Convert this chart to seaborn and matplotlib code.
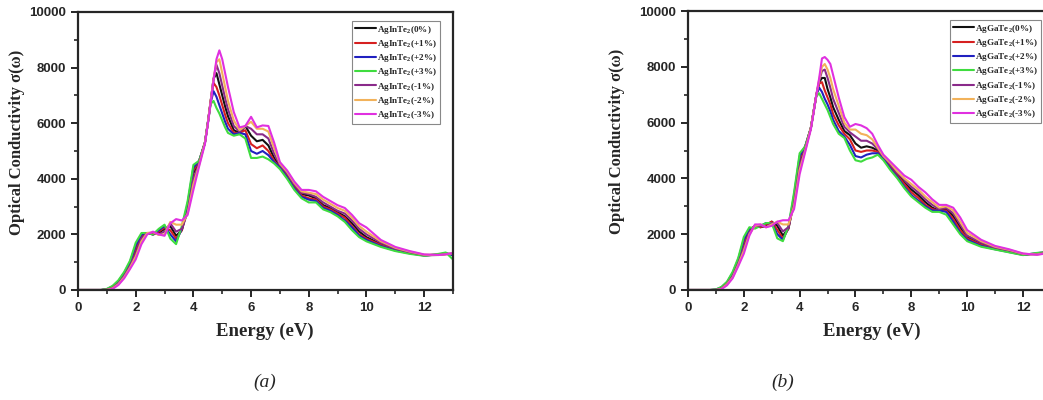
import seaborn as sns
import matplotlib.pyplot as plt
import matplotlib.ticker as mticker
import pandas as pd

# energy grid (eV), shared by all curves
energy = [0, 0.4, 0.8, 1.0, 1.2, 1.4, 1.6, 1.8, 2.0, 2.2, 2.4, 2.6, 2.8, 3.0, 3.2, 3.4, 3.6, 3.8,
          4.0, 4.2, 4.4, 4.5, 4.6, 4.7, 4.8, 4.9, 5.0, 5.1, 5.2, 5.4, 5.6, 5.8, 6.0, 6.2, 6.4, 6.6,
          6.8, 7.0, 7.25, 7.5, 7.75, 8.0, 8.25, 8.5, 8.75, 9.0, 9.25, 9.5, 9.75, 10.0, 10.5, 11.0,
          11.5, 12.0, 12.5, 12.75, 13.0]

strains = ['0%', '+1%', '+2%', '+3%', '-1%', '-2%', '-3%']
colors = ['#111111', '#d62020', '#2020c0', '#3fdc3f', '#8a2a8a', '#f2b25a', '#e030e0']

# ---- (a) AgInTe2 ----
inte_0 = [0, 0, 0, 15, 100, 270, 540, 900, 1400, 1900, 2050, 2000, 2050, 2200, 2300, 1950, 2150, 2900,
          4200, 4600, 5300, 6000, 6800, 7600, 7800, 7400, 7000, 6600, 6250, 5750, 5650, 5900, 5550, 5350, 5400, 5200,
          4750, 4450, 4150, 3750, 3450, 3400, 3300, 3050, 2950, 2800, 2650, 2400, 2100, 1900, 1650, 1460,
          1340, 1250, 1260, 1300, 1300]
inte_p1 = [0, 0, 0, 20, 110, 290, 570, 950, 1500, 1950, 2050, 2000, 2100, 2250, 2150, 1850, 2150, 3000,
           4300, 4650, 5300, 6000, 6800, 7450, 7300, 7000, 6650, 6300, 6000, 5650, 5650, 5750, 5250, 5100, 5200, 5000,
           4650, 4400, 4100, 3700, 3400, 3300, 3250, 3000, 2900, 2750, 2600, 2300, 2000, 1850, 1620, 1440,
           1330, 1250, 1270, 1310, 1280]
inte_p2 = [0, 0, 0, 30, 130, 320, 610, 1000, 1600, 2000, 2050, 2000, 2150, 2300, 2000, 1750, 2200, 3100,
           4400, 4650, 5300, 6000, 6750, 7150, 6950, 6650, 6350, 6050, 5800, 5600, 5650, 5600, 5000, 4900, 5000, 4850,
           4600, 4400, 4050, 3650, 3350, 3250, 3200, 2950, 2850, 2700, 2500, 2250, 1950, 1800, 1580, 1420,
           1320, 1240, 1280, 1320, 1250]
inte_p3 = [0, 0, 0, 40, 150, 350, 650, 1050, 1700, 2050, 2050, 2000, 2200, 2350, 1850, 1650, 2300, 3200,
           4500, 4650, 5300, 6000, 6700, 6800, 6550, 6350, 6100, 5850, 5650, 5550, 5600, 5450, 4750, 4750, 4800, 4700,
           4550, 4350, 4000, 3600, 3300, 3150, 3150, 2900, 2800, 2650, 2450, 2150, 1900, 1750, 1550, 1400,
           1300, 1230, 1300, 1350, 1100]
inte_m1 = [0, 0, 0, 10, 80, 240, 500, 850, 1300, 1850, 2050, 2050, 2000, 2100, 2400, 2100, 2200, 2800,
           4000, 4550, 5300, 6000, 6800, 7600, 8100, 7800, 7350, 6900, 6500, 5900, 5700, 5900, 5800, 5600, 5600, 5450,
           4900, 4500, 4200, 3800, 3500, 3450, 3350, 3150, 3000, 2850, 2750, 2500, 2200, 2000, 1700, 1490,
           1360, 1260, 1260, 1290, 1310]
inte_m2 = [0, 0, 0, 5, 60, 210, 460, 800, 1200, 1750, 2050, 2080, 1980, 2000, 2450, 2350, 2350, 2750,
           3800, 4500, 5300, 6000, 6800, 7600, 8200, 8300, 7800, 7300, 6800, 6100, 5750, 5900, 6050, 5800, 5800, 5700,
           5100, 4550, 4250, 3850, 3550, 3500, 3450, 3250, 3100, 2950, 2850, 2600, 2300, 2100, 1750, 1520,
           1380, 1270, 1260, 1280, 1320]
inte_m3 = [0, 0, 0, 0, 40, 180, 420, 750, 1100, 1650, 2000, 2100, 2000, 1950, 2400, 2550, 2500, 2700,
           3600, 4450, 5250, 5950, 6750, 7550, 8300, 8620, 8300, 7800, 7300, 6400, 5850, 5900, 6230, 5850, 5920, 5900,
           5300, 4600, 4300, 3900, 3600, 3600, 3550, 3350, 3200, 3050, 2950, 2700, 2400, 2250, 1800, 1550,
           1400, 1280, 1260, 1280, 1330]

# ---- (b) AgGaTe2 ----
gate_0 = [0, 0, 0, 5, 70, 240, 530, 1000, 1600, 2100, 2300, 2250, 2300, 2450, 2300, 1950, 2200, 3200,
          4600, 5100, 5800, 6400, 7000, 7450, 7600, 7600, 7200, 6900, 6550, 6100, 5700, 5550, 5250, 5100, 5150, 5100,
          5000, 4750, 4450, 4150, 3850, 3600, 3400, 3150, 2950, 2850, 2900, 2650, 2250, 1900, 1650, 1500,
          1400, 1280, 1290, 1330, 1360]
gate_p1 = [0, 0, 0, 10, 85, 260, 570, 1050, 1700, 2150, 2300, 2250, 2350, 2450, 2150, 1850, 2200, 3300,
           4700, 5150, 5800, 6400, 7000, 7400, 7450, 7150, 6900, 6650, 6300, 5900, 5600, 5400, 5000, 4950, 5000, 5000,
           4950, 4750, 4400, 4100, 3800, 3500, 3300, 3050, 2900, 2850, 2850, 2550, 2150, 1850, 1620, 1480,
           1380, 1270, 1300, 1340, 1360]
gate_p2 = [0, 0, 0, 15, 100, 280, 610, 1100, 1800, 2200, 2250, 2300, 2400, 2400, 2000, 1800, 2250, 3400,
           4800, 5150, 5800, 6400, 7000, 7250, 7100, 6850, 6650, 6400, 6100, 5700, 5500, 5200, 4800, 4750, 4850, 4900,
           4900, 4700, 4350, 4050, 3700, 3400, 3200, 3000, 2850, 2850, 2800, 2450, 2050, 1800, 1580, 1460,
           1360, 1260, 1320, 1350, 1360]
gate_p3 = [0, 0, 0, 20, 110, 300, 650, 1150, 1900, 2250, 2200, 2300, 2400, 2400, 1850, 1750, 2300, 3500,
           4900, 5150, 5800, 6400, 6950, 7050, 6850, 6650, 6450, 6200, 5950, 5600, 5450, 5000, 4650, 4600, 4700, 4750,
           4850, 4650, 4300, 4000, 3650, 3350, 3150, 2950, 2800, 2800, 2700, 2350, 2000, 1750, 1550, 1450,
           1350, 1250, 1330, 1350, 1350]
gate_m1 = [0, 0, 0, 0, 55, 220, 490, 950, 1500, 2050, 2300, 2300, 2250, 2400, 2400, 2100, 2250, 3100,
           4450, 5050, 5800, 6400, 7000, 7500, 7850, 7900, 7600, 7250, 6850, 6350, 5850, 5650, 5500, 5350, 5350, 5250,
           5050, 4800, 4500, 4200, 3950, 3700, 3500, 3250, 3050, 2900, 2950, 2750, 2350, 1950, 1700, 1520,
           1420, 1290, 1280, 1320, 1360]
gate_m2 = [0, 0, 0, 0, 40, 200, 450, 900, 1400, 2000, 2300, 2350, 2250, 2350, 2450, 2350, 2350, 3000,
           4300, 5000, 5800, 6400, 7000, 7550, 8000, 8100, 7900, 7600, 7200, 6600, 6000, 5750, 5750, 5600, 5550, 5400,
           5100, 4800, 4550, 4250, 4000, 3800, 3600, 3350, 3150, 2950, 3000, 2850, 2450, 2050, 1750, 1550,
           1440, 1300, 1270, 1310, 1360]
gate_m3 = [0, 0, 0, 0, 30, 170, 420, 850, 1300, 1950, 2350, 2350, 2250, 2300, 2450, 2500, 2500, 2900,
           4150, 4950, 5750, 6350, 7000, 7600, 8300, 8350, 8250, 8100, 7700, 6900, 6200, 5850, 5950, 5900, 5800, 5600,
           5200, 4850, 4600, 4350, 4100, 3950, 3700, 3500, 3250, 3050, 3050, 2950, 2600, 2150, 1800, 1580,
           1460, 1310, 1260, 1300, 1360]

inte_series = [inte_0, inte_p1, inte_p2, inte_p3, inte_m1, inte_m2, inte_m3]
gate_series = [gate_0, gate_p1, gate_p2, gate_p3, gate_m1, gate_m2, gate_m3]


def long_frame(compound, series):
    rows = []
    for s, vals in zip(strains, series):
        label = compound + '$_2$(' + s + ')'
        for e, v in zip(energy, vals):
            rows.append({'E': e, 'sigma': v, 'label': label})
    return pd.DataFrame(rows)


sns.set_style('ticks')
plt.rcParams['font.family'] = ['Liberation Sans', 'DejaVu Sans']
plt.rcParams['mathtext.default'] = 'regular'

fig = plt.figure(figsize=(10.43, 4.0), dpi=100)
ax1 = fig.add_axes([0.0748, 0.275, 0.3595, 0.695])
ax2 = fig.add_axes([0.6596, 0.275, 0.348, 0.6975])

serif_b = {'family': ['Liberation Serif', 'DejaVu Serif'], 'weight': 'bold'}

for ax, compound, series in [(ax1, 'AgInTe', inte_series), (ax2, 'AgGaTe', gate_series)]:
    df = long_frame(compound, series)
    sns.lineplot(data=df, x='E', y='sigma', hue='label', palette=colors, linewidth=1.5,
                 ax=ax, legend=True, sort=False)
    ax.set_xlim(0, 13)
    ax.set_ylim(0, 10000)
    ax.xaxis.set_major_locator(mticker.MultipleLocator(2))
    ax.xaxis.set_minor_locator(mticker.MultipleLocator(1))
    ax.yaxis.set_major_locator(mticker.MultipleLocator(2000))
    ax.yaxis.set_minor_locator(mticker.MultipleLocator(1000))
    ax.tick_params(which='major', direction='out', length=5, width=1.4, labelsize=9.5)
    ax.tick_params(which='minor', direction='out', length=3, width=1.2)
    for lab in ax.get_xticklabels() + ax.get_yticklabels():
        lab.set_fontweight('bold')
    for sp in ax.spines.values():
        sp.set_linewidth(1.6)
        sp.set_visible(True)
    ax.set_xlabel('')
    ax.set_ylabel('')
    handles, labels = ax.get_legend_handles_labels()
    ax.legend(handles, labels, loc='upper right', bbox_to_anchor=(0.97 if ax is ax1 else 0.978, 0.975),
              prop={'family': ['Liberation Serif', 'DejaVu Serif'], 'weight': 'bold', 'size': 6.6},
              frameon=True, fancybox=False, edgecolor='#888888', framealpha=1,
              handlelength=2.3, handletextpad=0.15, labelspacing=0.25, borderpad=0.3,
              borderaxespad=0.2)
    ax.get_legend().get_frame().set_linewidth(0.8)

fig.text(0.0163, 0.645, 'Optical Conductivity σ(ω)', rotation=90, ha='center', va='center',
         fontsize=12, **serif_b)
fig.text(0.5915, 0.647, 'Optical Conductivity σ(ω)', rotation=90, ha='center', va='center',
         fontsize=12, **serif_b)
fig.text(0.254, 0.172, 'Energy (eV)', ha='center', va='center', fontsize=13.5, **serif_b)
fig.text(0.836, 0.172, 'Energy (eV)', ha='center', va='center', fontsize=13.5, **serif_b)
fig.text(0.254, 0.043, '(a)', ha='center', va='center', fontsize=14, style='italic',
         family=['Liberation Serif', 'DejaVu Serif'])
fig.text(0.75, 0.043, '(b)', ha='center', va='center', fontsize=14, style='italic',
         family=['Liberation Serif', 'DejaVu Serif'])

fig.savefig('out.png', dpi=100)
